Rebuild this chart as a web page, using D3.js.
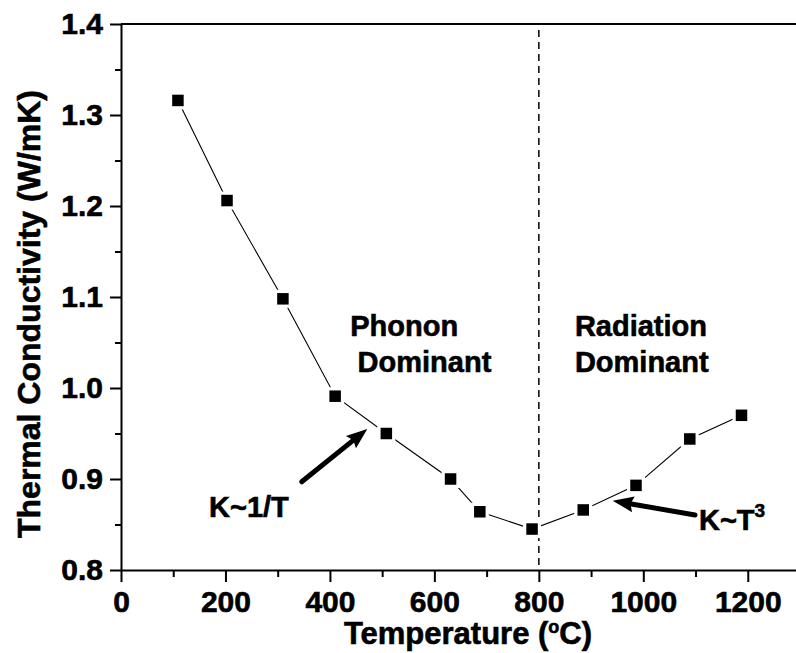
<!DOCTYPE html>
<html lang="en">
<head>
    <meta charset="UTF-8">
    <title>Thermal Conductivity vs Temperature</title>
    <style>
        body {
            margin: 0;
            background: #fff;
        }

        svg {
            display: block;
            font-family: "Liberation Sans", Arial, sans-serif;
            font-weight: bold;
        }

        svg text {
            fill: #000;
            stroke: #000;
            stroke-width: 0.6;
        }

        .axis path,
        .axis line {
            stroke: #000;
            stroke-width: 2;
        }

        .axis text {
            font-family: "Liberation Sans", Arial, sans-serif;
            font-weight: bold;
            font-size: 30px;
        }
    </style>
    <script src="https://d3js.org/d3.v7.min.js"></script>
</head>
<body>
    <svg width="796" height="653"></svg>

    <script>
        // data
        const temperature = [109, 203, 310, 410, 508, 631, 687, 787, 885, 986, 1089, 1188];
        const conductivity = [1.316, 1.206, 1.098, 0.991, 0.950, 0.900, 0.864, 0.845, 0.866, 0.893, 0.944, 0.970];
        const xTicks = [0, 200, 400, 600, 800, 1000, 1200];
        const yTicks = [0.8, 0.9, 1.0, 1.1, 1.2, 1.3, 1.4];
        const boundaryT = 800;

        const svg = d3.select("svg");

        const x = d3.scaleLinear().domain([0, 1300]).range([121, 800]);
        const y = d3.scaleLinear().domain([0.8, 1.4]).range([570, 24]);

        // minor ticks
        svg.append("g")
            .attr("class", "axis")
            .attr("transform", "translate(0,570)")
            .call(d3.axisBottom(x).tickValues(d3.range(100, 1300, 200)).tickSize(7).tickFormat(""))
            .select(".domain").remove();
        svg.append("g")
            .attr("class", "axis")
            .attr("transform", "translate(121,0)")
            .call(d3.axisLeft(y).tickValues([0.85, 0.95, 1.05, 1.15, 1.25, 1.35]).tickSize(6).tickFormat(""))
            .select(".domain").remove();

        // major axes
        svg.append("g")
            .attr("class", "axis")
            .attr("transform", "translate(0,570)")
            .call(d3.axisBottom(x).tickValues(xTicks).tickSize(12).tickSizeOuter(0).tickPadding(9).tickFormat(d3.format("d")));
        svg.append("g")
            .attr("class", "axis")
            .attr("transform", "translate(121,0)")
            .call(d3.axisLeft(y).tickValues(yTicks).tickSize(11).tickSizeOuter(0).tickPadding(7).tickFormat(d3.format(".1f")));

        // top frame line
        svg.append("line")
            .attr("x1", x(0)).attr("x2", x(1300))
            .attr("y1", y(1.4)).attr("y2", y(1.4))
            .attr("stroke", "#000").attr("stroke-width", 2);

        // boundary between regimes
        svg.append("line")
            .attr("x1", x(boundaryT)).attr("x2", x(boundaryT))
            .attr("y1", y(1.4) + 6).attr("y2", y(0.8))
            .attr("stroke", "#000").attr("stroke-width", 1.5)
            .attr("stroke-dasharray", "7,5");

        // data line + markers
        const pts = temperature.map((t, i) => [t, conductivity[i]]);
        svg.append("path")
            .datum(pts)
            .attr("fill", "none")
            .attr("stroke", "#000")
            .attr("stroke-width", 1.1)
            .attr("d", d3.line().x(d => x(d[0])).y(d => y(d[1])));

        svg.selectAll("rect.halo")
            .data(pts)
            .join("rect")
            .attr("class", "halo")
            .attr("x", d => x(d[0]) - 9).attr("y", d => y(d[1]) - 9)
            .attr("width", 18).attr("height", 18)
            .attr("fill", "#fff");
        svg.selectAll("rect.pt")
            .data(pts)
            .join("rect")
            .attr("class", "pt")
            .attr("x", d => x(d[0]) - 5.75).attr("y", d => y(d[1]) - 5.75)
            .attr("width", 11.5).attr("height", 11.5)
            .attr("fill", "#000");

        // region labels
        const label = (t, v, txt) => svg.append("text")
            .attr("x", x(t)).attr("y", y(v))
            .attr("font-size", 29)
            .text(txt);
        label(439, 1.057, "Phonon");
        label(453, 1.018, "Dominant");
        label(869, 1.057, "Radiation");
        label(869, 1.018, "Dominant");

        // arrows
        function arrow(t0, v0, t1, v1) {
            const x0 = x(t0), y0 = y(v0), x1 = x(t1), y1 = y(v1);
            const a = Math.atan2(y1 - y0, x1 - x0);
            const L = 21, W = 8;
            const bx = x1 - L * Math.cos(a), by = y1 - L * Math.sin(a);
            svg.append("line")
                .attr("x1", x0).attr("y1", y0)
                .attr("x2", bx + 2 * Math.cos(a)).attr("y2", by + 2 * Math.sin(a))
                .attr("stroke", "#000").attr("stroke-width", 5)
                .attr("stroke-linecap", "round");
            svg.append("path")
                .attr("d", `M${x1},${y1}L${bx + W * Math.sin(a)},${by - W * Math.cos(a)}` +
                    `L${bx + 3 * Math.cos(a)},${by + 3 * Math.sin(a)}` +
                    `L${bx - W * Math.sin(a)},${by + W * Math.cos(a)}Z`)
                .attr("fill", "#000");
        }
        arrow(346, 0.897, 471.6, 0.955);
        arrow(1099, 0.8604, 941.4, 0.8762);

        label(168.5, 0.8586, "K~1/T");
        const kt = label(1106.6, 0.844, "K~T");
        kt.append("tspan").attr("font-size", 19).attr("dy", -13).text("3");

        // axis titles
        const xt = svg.append("text")
            .attr("x", 468).attr("y", 644)
            .attr("text-anchor", "middle")
            .attr("font-size", 31)
            .text("Temperature (");
        xt.append("tspan").attr("font-size", 18).attr("dy", -11).text("o");
        xt.append("tspan").attr("dy", 11).text("C)");

        svg.append("text")
            .attr("transform", "translate(40,314) rotate(-90)")
            .attr("text-anchor", "middle")
            .attr("font-size", 32)
            .text("Thermal Conductivity (W/mK)");
    </script>
</body>
</html>
